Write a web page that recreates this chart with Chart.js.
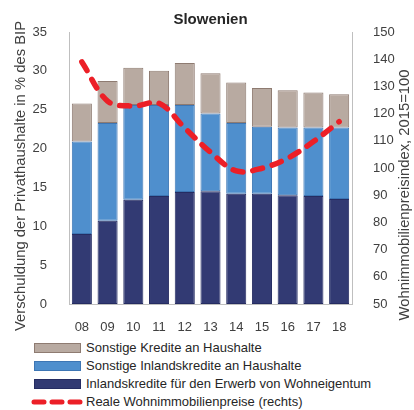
<!DOCTYPE html>
<html lang="de">
<head>
<meta charset="utf-8">
<title>Slowenien</title>
<script src="https://cdn.jsdelivr.net/npm/chart.js@4/dist/chart.umd.min.js"></script>
<style>
  html, body { margin: 0; padding: 0; background: #fff; }
  .wrap { position: relative; width: 414px; height: 410px; font-family: "Liberation Sans", Arial, sans-serif; color: #262626; }
  #Chart { position: absolute; left: 0; top: 0; }
  .legend { position: absolute; left: 0; top: 339px; margin: 0; padding: 0; list-style: none; }
  .legend li { position: relative; height: 18px; line-height: 18px; font-size: 13px; padding-left: 86px; white-space: nowrap; }
  .legend .box { position: absolute; left: 34px; top: 4px; width: 45px; height: 8px; border: 1px solid; }
  .legend svg { position: absolute; left: 28px; top: 4px; }
</style>
</head>
<body>
<div class="wrap">
  <canvas id="Chart" width="414" height="335"></canvas>
  <ul class="legend js-legend"></ul>
</div>
<script>
"use strict";

// years (20xx)
var years = ['08', '09', '10', '11', '12', '13', '14', '15', '16', '17', '18'];

// household debt, % of GDP
var kreditWohneigentum = [9.0, 10.7, 13.4, 13.9, 14.4, 14.5, 14.2, 14.2, 14.0, 13.9, 13.5];
var sonstigeInlandskredite = [11.9, 12.6, 12.2, 11.7, 11.2, 10.0, 9.1, 8.6, 8.7, 8.8, 9.2];
var sonstigeKredite = [4.9, 5.4, 4.8, 4.4, 5.4, 5.2, 5.2, 5.0, 4.8, 4.5, 4.3];

// real house price index, 2015=100 (right axis)
var wohnimmobilienpreise = [139, 124.6, 122.8, 123.8, 114.7, 105.8, 98.9, 99.9, 103.6, 109.7, 117];

var leftTicks = { min: 0, max: 35, step: 5 };
var rightTicks = { min: 50, max: 150, step: 10 };

var FONT = '"Liberation Sans", Arial, sans-serif';
var AXIS_GREY = '#bfbfbf';
var TEXT = '#404040';

var series = [
  { label: 'Sonstige Kredite an Haushalte', fill: '#b8aaa1', line: '#8e7b71' },
  { label: 'Sonstige Inlandskredite an Haushalte', fill: '#4f8fcd', line: '#3d76b4' },
  { label: 'Inlandskredite für den Erwerb von Wohneigentum', fill: '#323a73', line: '#252c62' },
  { label: 'Reale Wohnimmobilienpreise (rechts)', fill: '#ec1f27', dashed: true }
];

// rotated axis titles, drawn by hand so they can sit off-centre
var axisTitles = {
  id: 'axisTitles',
  afterDraw: function (chart) {
    var ctx = chart.ctx;
    ctx.save();
    ctx.fillStyle = TEXT;
    ctx.font = '14.8px ' + FONT;
    ctx.textAlign = 'center';
    ctx.textBaseline = 'middle';
    [['Verschuldung der Privathaushalte in % des BIP', 21, 176],
     ['Wohnimmobilienpreisindex, 2015=100', 405, 195]].forEach(function (t) {
      ctx.save();
      ctx.translate(t[1], t[2]);
      ctx.rotate(-Math.PI / 2);
      ctx.fillText(t[0], 0, 0);
      ctx.restore();
    });
    ctx.restore();
  }
};

function barSet(data, s) {
  return {
    type: 'bar',
    label: s.label,
    data: data,
    backgroundColor: s.fill,
    borderColor: s.line,
    borderWidth: 1,
    borderSkipped: false,
    yAxisID: 'y',
    order: 1,
    categoryPercentage: 1,
    barPercentage: 0.78
  };
}

var ctx = document.getElementById('Chart').getContext('2d');
var chart = new Chart(ctx, {
  data: {
    labels: years,
    datasets: [
      {
        type: 'line',
        label: series[3].label,
        data: wohnimmobilienpreise,
        yAxisID: 'y1',
        borderColor: series[3].fill,
        borderWidth: 5.5,
        borderDash: [10, 10],
        borderCapStyle: 'round',
        tension: 0.35,
        pointRadius: 0,
        fill: false,
        order: 0
      },
      barSet(kreditWohneigentum, series[2]),
      barSet(sonstigeInlandskredite, series[1]),
      barSet(sonstigeKredite, series[0])
    ]
  },
  options: {
    responsive: false,
    animation: false,
    layout: { padding: 0 },
    plugins: {
      legend: { display: false },
      tooltip: { enabled: false },
      title: {
        display: true,
        text: 'Slowenien',
        fullSize: false,
        color: '#262626',
        font: { family: FONT, size: 15, weight: 'bold' },
        padding: { top: 11, bottom: 3 }
      }
    },
    scales: {
      x: {
        stacked: true,
        grid: { display: false },
        border: { color: AXIS_GREY },
        ticks: { color: TEXT, font: { family: FONT, size: 13 }, padding: 8, maxRotation: 0 },
        afterFit: function (s) { s.height = 31; }
      },
      y: {
        stacked: true,
        position: 'left',
        min: leftTicks.min,
        max: leftTicks.max,
        grid: { display: false },
        border: { color: AXIS_GREY },
        ticks: { stepSize: leftTicks.step, color: TEXT, font: { family: FONT, size: 13 }, padding: 14 },
        afterFit: function (s) { s.width = 69; }
      },
      y1: {
        position: 'right',
        min: rightTicks.min,
        max: rightTicks.max,
        grid: { display: false },
        border: { color: AXIS_GREY },
        ticks: { stepSize: rightTicks.step, color: TEXT, font: { family: FONT, size: 13 }, padding: 13 },
        afterFit: function (s) { s.width = 62; }
      }
    }
  },
  plugins: [axisTitles]
});

// legend, one entry per row
var legend = document.querySelector('.js-legend');
series.forEach(function (s) {
  var li = document.createElement('li');
  if (s.dashed) {
    li.innerHTML = '<svg width="56" height="10"><line x1="6" y1="5" x2="52" y2="5" stroke="' + s.fill +
      '" stroke-width="5" stroke-linecap="round" stroke-dasharray="10 8"></line></svg>';
  } else {
    li.innerHTML = '<span class="box" style="background:' + s.fill + ';border-color:' + s.line + '"></span>';
  }
  li.appendChild(document.createTextNode(s.label));
  legend.appendChild(li);
});
</script>
</body>
</html>
